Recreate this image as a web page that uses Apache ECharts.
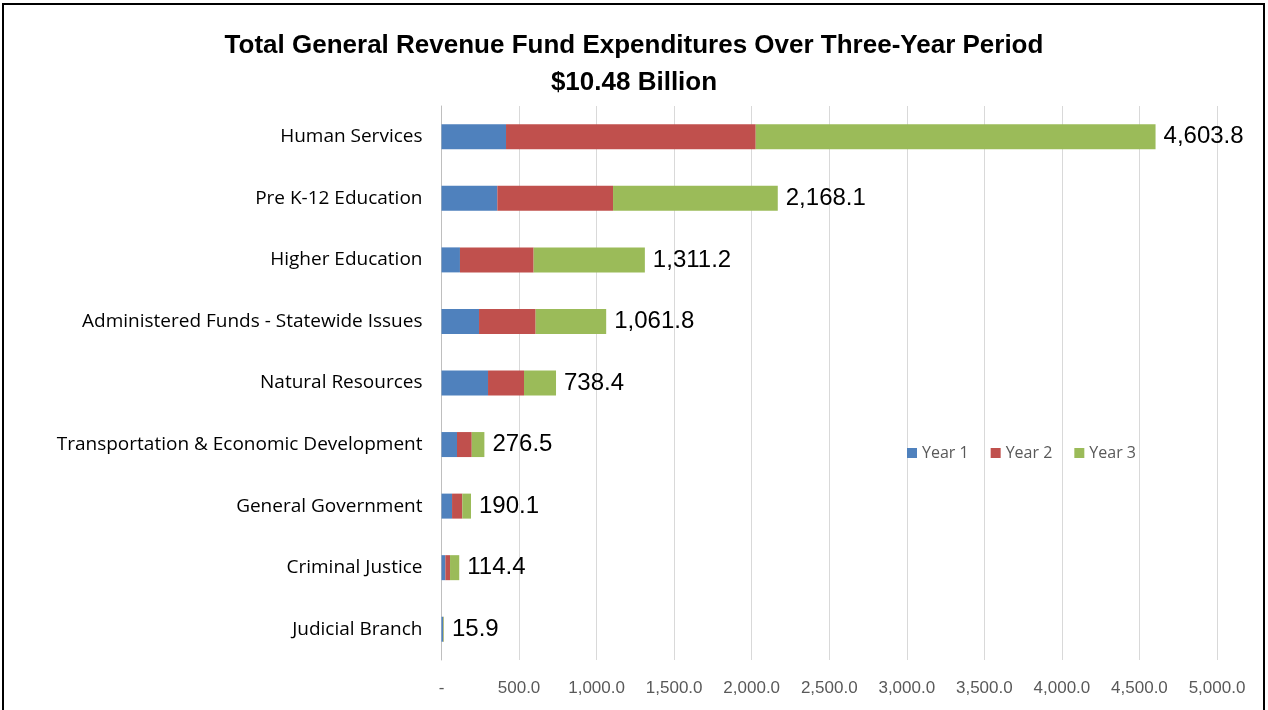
<!DOCTYPE html>
<html>
<head>
<meta charset="utf-8">
<script src="https://cdn.jsdelivr.net/npm/echarts@6/dist/echarts.min.js"></script>
<style>
html,body{margin:0;padding:0;background:#fff;}
#frame{position:absolute;left:2px;top:3px;width:1263px;height:720px;border:2px solid #000;box-sizing:border-box;}
#chart{position:absolute;left:0;top:0;width:1268px;height:710px;}
</style>
</head>
<body>
<div id="frame"></div>
<div id="chart"></div>
<script>
const categories = ["Human Services","Pre K-12 Education","Higher Education","Administered Funds - Statewide Issues","Natural Resources","Transportation & Economic Development","General Government","Criminal Justice","Judicial Branch"];
const year1 = [416, 360, 119, 242, 300, 100, 68, 25, 10];
const year2 = [1610, 746, 475, 365, 232, 95, 66, 30, 2];
const year3 = [2577.8, 1062.1, 717.2, 454.8, 206.4, 81.5, 56.1, 59.4, 3.9];
const totals = [4603.8, 2168.1, 1311.2, 1061.8, 738.4, 276.5, 190.1, 114.4, 15.9];
const seriesNames = ["Year 1","Year 2","Year 3"];
const colors = ["#4f81bd","#c0504d","#9bbb59"];

function fmtNum(v){
  if (v === 0) return "-";
  return v.toLocaleString("en-US",{minimumFractionDigits:1,maximumFractionDigits:1});
}

const chart = echarts.init(document.getElementById("chart"));
const valueSets = [year1, year2, year3];
const series = valueSets.map((vals, i) => ({
  name: seriesNames[i],
  type: "bar",
  stack: "total",
  barWidth: 25,
  data: vals,
  itemStyle: {color: colors[i]},
  label: i === 2 ? {
    show: true,
    position: "right",
    distance: 8,
    formatter: p => fmtNum(totals[p.dataIndex]),
    fontFamily: "Liberation Sans, Arial, sans-serif",
    fontSize: 24,
    color: "#000"
  } : {show: false}
}));

chart.setOption({
  animation: false,
  title: {
    text: "Total General Revenue Fund Expenditures Over Three-Year Period\n$10.48 Billion",
    left: "center",
    top: 22,
    textStyle: {
      fontFamily: "Liberation Sans, Arial, sans-serif",
      fontWeight: "bold",
      fontSize: 26,
      lineHeight: 37,
      color: "#000"
    }
  },
  legend: {
    data: seriesNames,
    left: 902,
    top: 440,
    itemWidth: 10,
    itemHeight: 10,
    itemGap: 22,
    icon: "rect",
    textStyle: {fontFamily: "Open Sans, Liberation Sans, sans-serif", fontSize: 16, color: "#595959"}
  },
  grid: {left: 441.5, right: 51, top: 106, bottom: 50, containLabel: false},
  xAxis: {
    type: "value",
    min: 0,
    max: 5000,
    interval: 500,
    axisLine: {show: false},
    axisTick: {show: false},
    splitLine: {lineStyle: {color: "#d9d9d9", width: 1}},
    axisLabel: {
      formatter: v => fmtNum(v),
      fontFamily: "Liberation Sans, Arial, sans-serif",
      fontSize: 17,
      color: "#595959",
      margin: 20
    }
  },
  yAxis: {
    type: "category",
    inverse: true,
    data: categories,
    axisLine: {show: true, lineStyle: {color: "#bfbfbf"}},
    axisTick: {show: false},
    axisLabel: {
      fontFamily: "Open Sans, Liberation Sans, sans-serif",
      fontSize: 19,
      color: "#000",
      margin: 19
    }
  },
  series: series
});
</script>
</body>
</html>
